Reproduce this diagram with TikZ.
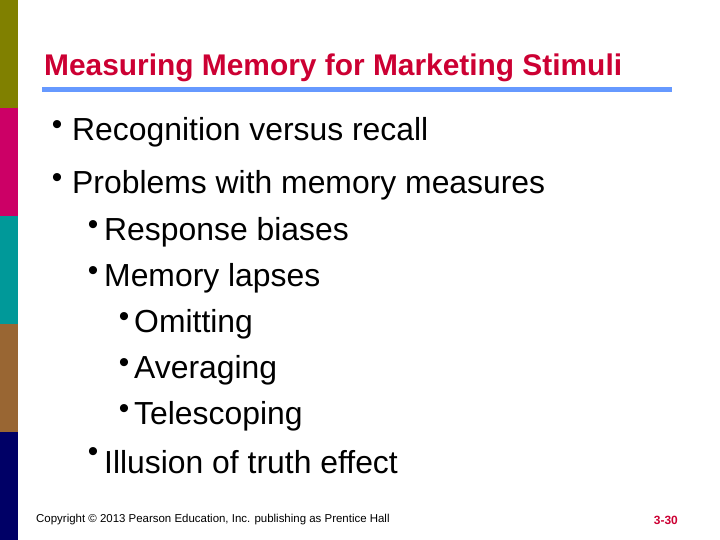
\documentclass[tikz,border=0pt]{standalone}
\usepackage{fontspec}
\setmainfont{Liberation Sans}
\definecolor{barolive}{HTML}{808000}
\definecolor{barrose}{HTML}{CC0066}
\definecolor{barteal}{HTML}{009999}
\definecolor{barbrown}{HTML}{996633}
\definecolor{barnavy}{HTML}{000066}
\definecolor{titlered}{HTML}{CC0033}
\definecolor{ruleblue}{HTML}{6699FF}
\tikzset{
  item/.style    = {anchor=west, inner sep=0pt, font=\fontsize{32}{36}\selectfont},
  dot/.style     = {anchor=center, inner sep=0pt, font=\fontsize{30}{34}\selectfont},
  foot/.style    = {anchor=west, inner sep=0pt, font=\fontsize{11.5}{13}\selectfont}
}
\begin{document}
\begin{tikzpicture}[x=1bp, y=-1bp]
  \useasboundingbox (0,0) rectangle (720,540);
  % side bar
  \foreach \c [count=\i from 0] in {barolive,barrose,barteal,barbrown,barnavy}
    \fill[\c] (0,108*\i) rectangle (18,108*\i+108);
  % title
  \node[anchor=west, inner sep=0pt, text=titlered, font=\fontsize{30}{34}\selectfont\bfseries]
    (title) at (44,68) {Measuring Memory for Marketing Stimuli};
  \draw[ruleblue, line width=5bp] (42,90) -- (672,90);
  % level 1
  \node[dot] (d1) at (57,128) {•};
  \node[item] (recog) at (72,132) {Recognition versus recall};
  \node[dot] (d2) at (57,181) {•};
  \node[item] (probs) at (72,185) {Problems with memory measures};
  % level 2
  \node[dot] (d3) at (93,228) {•};
  \node[item] (resp) at (104,232) {Response biases};
  \node[dot] (d4) at (93,274) {•};
  \node[item] (lapse) at (104,278) {Memory lapses};
  % level 3
  \node[dot] (d5) at (124,320) {•};
  \node[item] (omit) at (134,324) {Omitting};
  \node[dot] (d6) at (124,366) {•};
  \node[item] (avg) at (134,370) {Averaging};
  \node[dot] (d7) at (124,412) {•};
  \node[item] (tele) at (134,416) {Telescoping};
  % last
  \node[dot] (d8) at (93,455) {•};
  \node[item] (illus) at (104,462) {Illusion of truth effect};
  % footer
  \node[foot] (copy) at (36,520) {Copyright © 2013 Pearson Education, Inc. publishing as Prentice Hall};
  \node[anchor=east, inner sep=0pt, text=titlered, font=\fontsize{12}{14}\selectfont\bfseries]
    (page) at (678,520) {3-30};
\end{tikzpicture}
\end{document}
